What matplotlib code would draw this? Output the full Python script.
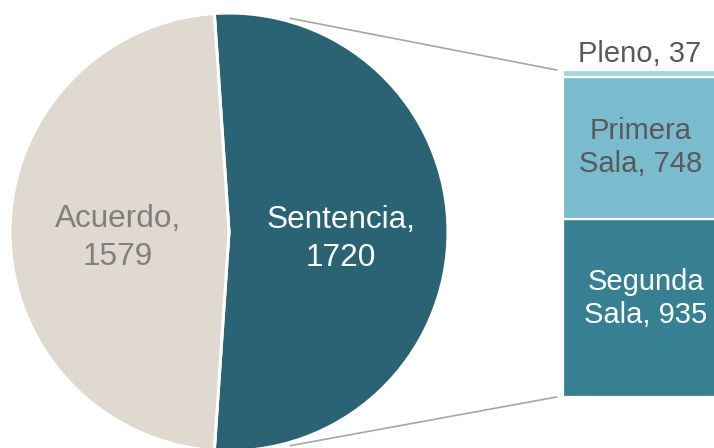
import numpy as np
import matplotlib
matplotlib.use("Agg")
import matplotlib.pyplot as plt
from matplotlib.patches import ConnectionPatch

plt.rcParams['font.family'] = ['Liberation Sans', 'DejaVu Sans']

pie_labels = ["Sentencia", "Acuerdo"]
pie_values = [1720, 1579]
pie_colors = ["#2A6373", "#DFD9CF"]
pie_text_colors = ["white", "#7F7F7F"]

bar_labels = ["Segunda\nSala", "Primera\nSala", "Pleno"]
bar_values = [935, 748, 37]
bar_colors = ["#378094", "#7ABBCD", "#A5D5E0"]
bar_text_colors = ["white", "#595959", "#595959"]

FS_PIE = 22.7
FS_BAR = 21
LS_PIE = 1.33
LS_BAR = 1.22

W, H = 714, 448
fig = plt.figure(figsize=(W / 100, H / 100), dpi=100)
ax = fig.add_axes([0, 0, 1, 1])
ax.set_zorder(2)

cx, cy, R = 229, 216, 219
frac = pie_values[0] / sum(pie_values)
start = -frac * 180
wedges, _ = ax.pie(pie_values, colors=pie_colors, center=(cx, cy), radius=R,
                   startangle=start, counterclock=True,
                   wedgeprops=dict(edgecolor="white", linewidth=2.2))
ax.set_xlim(0, W)
ax.set_ylim(0, H)
ax.set_aspect('equal')
ax.axis('off')

# pie labels (baseline of last line)
ax.text(341, H - 266, f"{pie_labels[0]},\n{pie_values[0]}", ha='center', va='baseline',
        color=pie_text_colors[0], fontsize=FS_PIE, linespacing=LS_PIE)
ax.text(118, H - 265, f"{pie_labels[1]},\n{pie_values[1]}", ha='center', va='baseline',
        color=pie_text_colors[1], fontsize=FS_PIE, linespacing=LS_PIE)

# bar of pie
bx0 = 563 / W
by0 = 51 / H
bh = 327 / H
ax2 = fig.add_axes([bx0, by0, 1 - bx0 + 0.01, bh])
ax2.set_zorder(1)
ax2.set_xlim(0, 1)
ax2.set_ylim(0, sum(bar_values))
ax2.axis('off')
bottom = 0
for v, c in zip(bar_values, bar_colors):
    ax2.bar(0, v, bottom=bottom, width=1, align='edge', color=c,
            edgecolor='white', linewidth=1.6)
    bottom += v

ax.text(646, H - 323, f"{bar_labels[0]}, {bar_values[0]}", ha='center', va='baseline',
        color=bar_text_colors[0], fontsize=FS_BAR, linespacing=LS_BAR)
ax.text(641, H - 172, f"{bar_labels[1]}, {bar_values[1]}", ha='center', va='baseline',
        color=bar_text_colors[1], fontsize=FS_BAR, linespacing=LS_BAR)
ax.text(640, H - 62, f"{bar_labels[2]}, {bar_values[2]}", ha='center',
        va='baseline', color=bar_text_colors[2], fontsize=FS_BAR)

# connector lines
ang = np.deg2rad(74)
for sgn, ytarget in [(1, sum(bar_values)), (-1, 0)]:
    p = (cx + R * 1.015 * np.cos(sgn * ang), cy + R * 1.015 * np.sin(sgn * ang))
    con = ConnectionPatch(xyA=p, coordsA=ax.transData, xyB=(-0.04, ytarget),
                          coordsB=ax2.transData, color="#A6A6A6", linewidth=1.2)
    fig.add_artist(con)

fig.savefig("out.png", dpi=100)
